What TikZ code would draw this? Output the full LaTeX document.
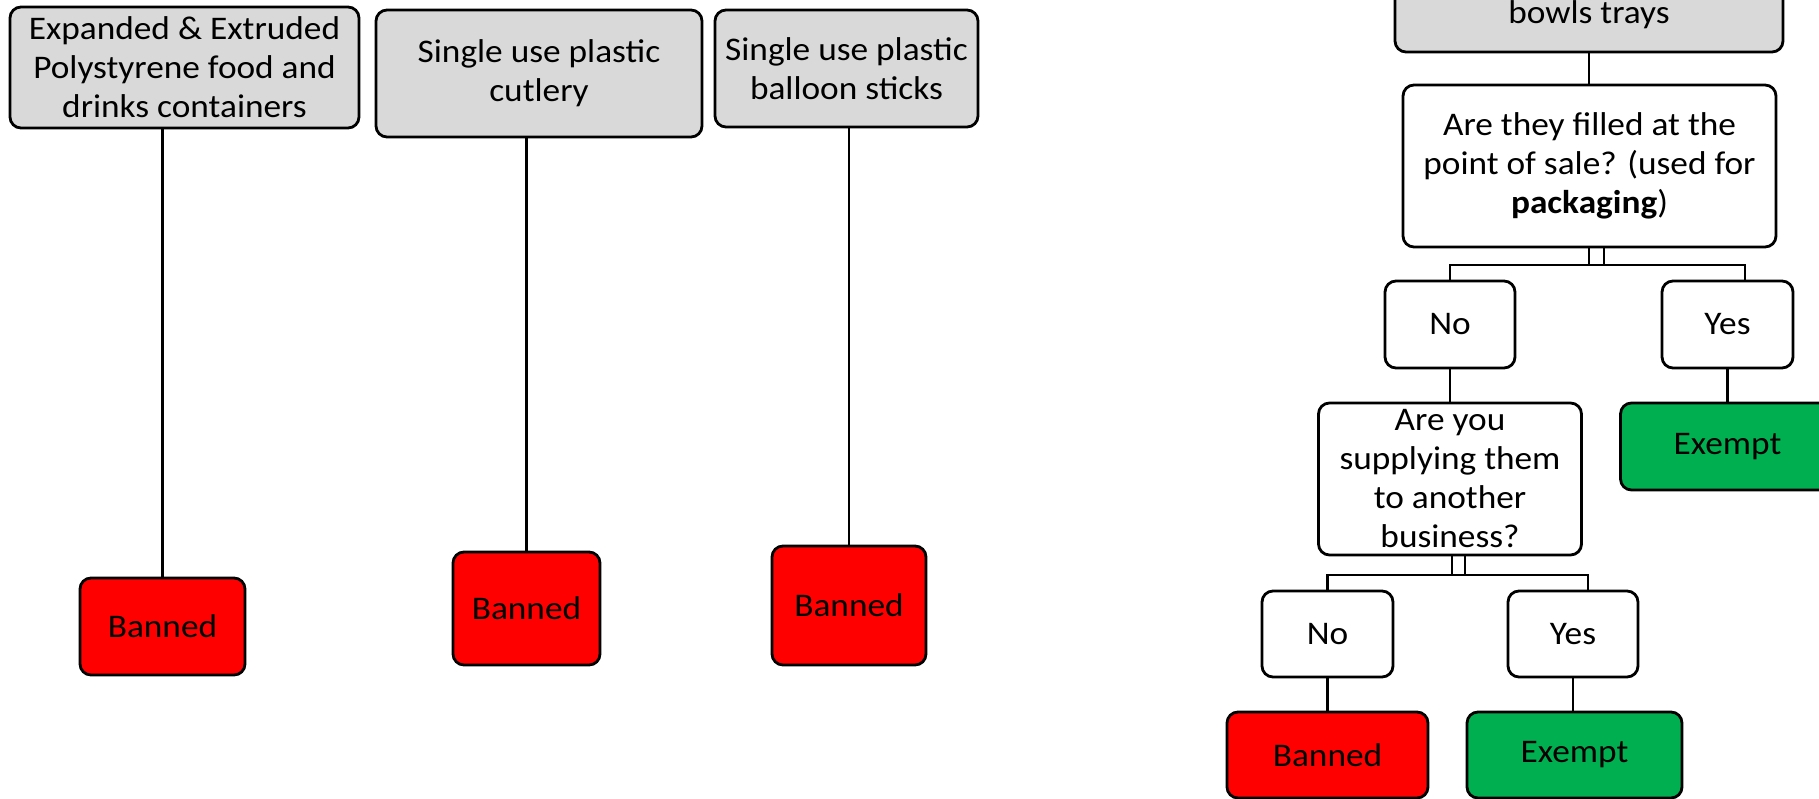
\documentclass[tikz,border=0pt]{standalone}
\usepackage{fontspec}
\setmainfont{Carlito}[FakeStretch=1.07]
\usepackage{xcolor}
\usepackage{tikz}
\definecolor{boxgrey}{HTML}{D9D9D9}
\definecolor{banred}{HTML}{FF0000}
\definecolor{exgreen}{HTML}{00B050}

\begin{document}
\begin{tikzpicture}[x=0.5pt,y=-0.5pt]
	\tikzstyle{box}=[draw=black,line width=1.4pt,rounded corners=5.5pt,align=center,inner sep=0pt,font=\fontsize{16.5}{19.5}\selectfont]
	\tikzstyle{greybox}=[box,fill=boxgrey]
	\tikzstyle{qbox}=[box,fill=white]
	\tikzstyle{banbox}=[box,fill=banred]
	\tikzstyle{exbox}=[box,fill=exgreen]
	\tikzstyle{link}=[draw=black,line width=1.2pt]
	\useasboundingbox (0,0) rectangle (1819,798);
	\clip (0,0) rectangle (1819,798);
	% three banned items on the left
	\node[greybox,minimum width=174.5pt,minimum height=60.5pt](c1) at (184.5,67.5){Expanded \& Extruded\\Polystyrene food and\\drinks containers};
	\node[greybox,minimum width=163pt,minimum height=63.5pt](c2) at (539,73.5){Single use plastic\\cutlery};
	\node[greybox,minimum width=131.5pt,minimum height=58.5pt](c3) at (846.5,68.5){Single use plastic\\balloon sticks};
	\node[banbox,minimum width=82.5pt,minimum height=48.5pt](ban1) at (162.5,626.5){Banned};
	\node[banbox,minimum width=73.5pt,minimum height=56.5pt](ban2) at (526.5,608.5){Banned};
	\node[banbox,minimum width=77pt,minimum height=59.5pt](ban3) at (849,605.5){Banned};
	% decision tree on the right
	\node[greybox,minimum width=194pt,minimum height=37pt](top) at (1589,15){bowls trays};
	\node[qbox,minimum width=186.5pt,minimum height=81pt](q1) at (1589.5,166){Are they filled at the\\point of sale? (used for\\\textbf{packaging})};
	\node[qbox,minimum width=65pt,minimum height=43.5pt](no1) at (1450,324.5){No};
	\node[qbox,minimum width=65.5pt,minimum height=43.5pt](yes1) at (1727.5,324.5){Yes};
	\node[exbox,minimum width=107pt,minimum height=43.5pt](ex1) at (1727.5,446.5){Exempt};
	\node[qbox,minimum width=131.5pt,minimum height=76pt](q2) at (1450,479){Are you\\supplying them\\to another\\business?};
	\node[qbox,minimum width=65.5pt,minimum height=43pt](no2) at (1327.5,634){No};
	\node[qbox,minimum width=65pt,minimum height=43pt](yes2) at (1573,634){Yes};
	\node[banbox,minimum width=100.5pt,minimum height=43pt](ban4) at (1327.5,755){Banned};
	\node[exbox,minimum width=107.5pt,minimum height=43pt](ex2) at (1574.5,755){Exempt};
	\coordinate (bar1) at (1589,265);
	\coordinate (bar2) at (1452,575);
	\path[link]
		(ban1.north |- c1.south) edge (ban1.north)
		(ban2.north |- c2.south) edge (ban2.north)
		(ban3.north |- c3.south) edge (ban3.north)
		(top.south) edge (top.south |- q1.north)
		(q1.south -| bar1) edge (bar1)
		([xshift=7.5pt]q1.south -| bar1) edge ([xshift=7.5pt]bar1)
		(no1.south) edge (no1.south |- q2.north)
		(yes1.south) edge (yes1.south |- ex1.north)
		(q2.south -| bar2) edge (bar2)
		([xshift=6.5pt]q2.south -| bar2) edge ([xshift=6.5pt]bar2)
		(no2.south) edge (no2.south |- ban4.north)
		(yes2.south) edge (yes2.south |- ex2.north);
	\draw[link] (no1.north) |- (bar1) -| ([xshift=8.75pt]yes1.north);
	\draw[link] (no2.north) |- (bar2) -| ([xshift=7.5pt]yes2.north);
\end{tikzpicture}
\end{document}
